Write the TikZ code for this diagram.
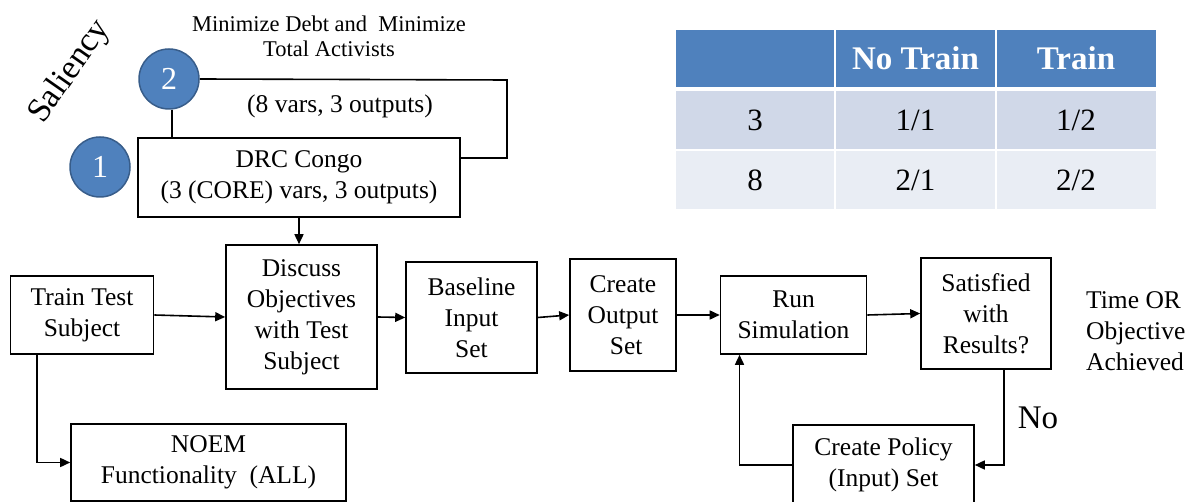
\documentclass[tikz,border=0pt]{standalone}
\usepackage{fontspec}
\setmainfont{LiberationSerif}[Extension=.ttf,UprightFont=*-Regular,BoldFont=*-Bold,ItalicFont=*-Italic,BoldItalicFont=*-BoldItalic]
\usetikzlibrary{arrows.meta,calc}
\definecolor{hdrblue}{HTML}{4F81BD}
\definecolor{ringblue}{HTML}{385D8A}
\definecolor{rowA}{HTML}{D0D8E8}
\definecolor{rowB}{HTML}{E9EDF4}
\begin{document}
\begin{tikzpicture}[x=1pt,y=-1pt,
  box/.style={draw,line width=1.6pt,align=center,inner sep=0pt,
    font=\fontsize{25.5}{31}\selectfont},
  flow/.style={line width=1.6pt,-{Triangle[length=10pt,width=9pt]}},
  link/.style={line width=1.6pt},
  badge/.style={circle,fill=hdrblue,draw=ringblue,line width=1.5pt,
    minimum size=60pt,inner sep=0pt,text=white,font=\fontsize{32}{32}\selectfont},
  plain/.style={inner sep=0pt,align=center,font=\fontsize{25.5}{31}\selectfont},
  cellhead/.style={inner sep=0pt,text=white,font=\fontsize{33}{33}\selectfont\bfseries},
  cellbody/.style={inner sep=0pt,font=\fontsize{31}{31}\selectfont}]
\useasboundingbox (0,0) rectangle (1190,502);

% ---- saliency levels -------------------------------------------------
\node[plain,rotate=55,font=\fontsize{34}{34}\selectfont] (sal) at (70,72) {Saliency};
\node[plain,font=\fontsize{22.5}{25}\selectfont] (goal) at (329,36)
  {Minimize Debt and\ \ Minimize\\Total Activists};
\node[plain] (eight) at (340,106) {(8 vars, 3 outputs)};
\node[box,minimum width=322pt,minimum height=79pt] (drc) at (299,177.5)
  {DRC Congo\\(3 (CORE) vars, 3 outputs)};
\node[badge] (c2) at (169,79) {2};
\node[badge] (c1) at (100,167) {1};
\coordinate (k1) at (507,80);
\coordinate (k2) at (507,158);
\draw[link] (c2.east) -- (k1) -- (k2) -- (k2 -| drc.east);
\draw[link] ([xshift=3pt]c2.south) -- ([xshift=3pt]c2.south |- drc.north);

% ---- process chain ---------------------------------------------------
\node[box,minimum width=143pt,minimum height=78pt] (train) at (82,315) {Train Test\\Subject};
\node[box,minimum width=151pt,minimum height=144pt] (disc) at (301.5,317)
  {Discuss\\Objectives\\with Test\\Subject};
\node[box,minimum width=131pt,minimum height=111pt] (base) at (471.5,317.5)
  {Baseline\\Input\\Set};
\node[box,minimum width=106pt,minimum height=112pt] (outp) at (623,315)
  {Create\\Output\\\ Set};
\node[box,minimum width=146pt,minimum height=78pt] (run) at (793.5,315)
  {Run\\Simulation};
\node[box,minimum width=130pt,minimum height=111pt] (sat) at (986,313.5)
  {Satisfied\\with\\Results?};
\node[box,minimum width=181pt,minimum height=80pt] (pol) at (883.5,465)
  {Create Policy\\(Input) Set};
\node[box,minimum width=275pt,minimum height=77pt] (noem) at (208.5,462.5)
  {NOEM\\Functionality\ \ (ALL)};
\node[plain,anchor=west,align=left] (done) at (1086,331)
  {Time OR\\Objective\\Achieved};
\node[plain,font=\fontsize{33}{33}\selectfont] (no) at (1038,418) {No};

\draw[flow] (drc.south) -- (drc.south |- disc.north);
\draw[flow] (train.east) -- (disc.west);
\draw[flow] (disc.east) -- (base.west);
\draw[flow] (base.east) -- (outp.west);
\draw[flow] (outp.east) -- (run.west);
\draw[flow] (run.east) -- (sat.west);
\draw[flow] ([xshift=18pt]sat.south) |- (pol.east);
\draw[flow] (pol.west) -| ([xshift=-54pt]run.south);
\draw[flow] ([xshift=-45pt]train.south) |- (noem.west);

% ---- results table ---------------------------------------------------
\fill[hdrblue] (676,30) rectangle (1156,87);
\fill[rowA] (676,91) rectangle (1156,149);
\fill[rowB] (676,151) rectangle (1156,209);
\draw[white,line width=2.5pt] (835,30) -- (835,209) (996,30) -- (996,209);
\node[cellhead] (h1) at (915.5,58) {No Train};
\node[cellhead] (h2) at (1076,58) {Train};
\node[cellbody] (r1a) at (755,120) {3};
\node[cellbody] (r1b) at (915.5,120) {1/1};
\node[cellbody] (r1c) at (1076,120) {1/2};
\node[cellbody] (r2a) at (755,180) {8};
\node[cellbody] (r2b) at (915.5,180) {2/1};
\node[cellbody] (r2c) at (1076,180) {2/2};
\end{tikzpicture}
\end{document}
